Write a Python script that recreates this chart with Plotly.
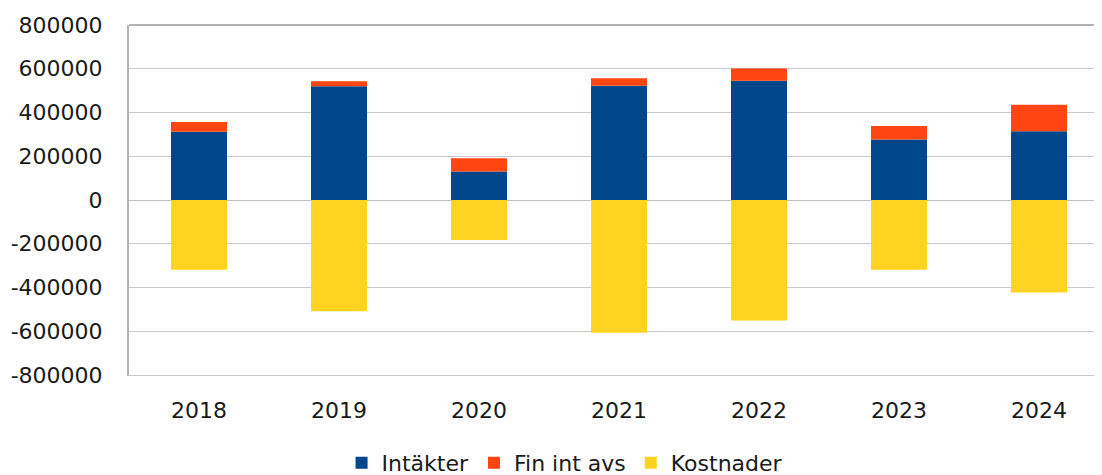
import plotly.graph_objects as go

years = ["2018", "2019", "2020", "2021", "2022", "2023", "2024"]
intakter = [312000, 520000, 130000, 522000, 545000, 277000, 314000]
fin_int_avs = [45000, 23000, 61000, 35000, 56000, 61000, 122000]
kostnader = [-319000, -508000, -183000, -607000, -551000, -319000, -423000]

y_tickvals = [800000, 600000, 400000, 200000, 0, -200000, -400000, -600000, -800000]
y_ticktext = ["800000", "600000", "400000", "200000", "0", "-200000", "-400000", "-600000", "-800000"]

font_family = "DejaVu Sans"

fig = go.Figure()
fig.add_trace(go.Bar(x=years, y=intakter, name="Intäkter", marker_color="#00468B",
                     marker_line_width=0))
fig.add_trace(go.Bar(x=years, y=fin_int_avs, name="Fin int avs", marker_color="#FF4511",
                     marker_line_width=0))
fig.add_trace(go.Bar(x=years, y=kostnader, name="Kostnader", marker_color="#FFD320",
                     marker_line_width=0))

fig.update_layout(
    width=1102, height=475,
    barmode="relative",
    bargap=0.6,
    paper_bgcolor="white",
    plot_bgcolor="white",
    margin=dict(l=121, r=0, t=17, b=108, autoexpand=False),
    font=dict(family=font_family, size=22, color="#1a1a1a"),
    legend=dict(orientation="h", x=0.444, xanchor="center", y=-0.251, yanchor="middle",
                font=dict(size=22), traceorder="normal", itemwidth=30),
    showlegend=True,
    shapes=[dict(type="line", xref="paper", yref="paper", x0=0, x1=1, y0=1, y1=1,
                 line=dict(color="#b3b3b3", width=2))],
)
fig.update_xaxes(
    range=[-0.5, 6.507],
    automargin=False,
    showgrid=False,
    showline=True,
    linecolor="#c8c8c8",
    linewidth=1,
    ticks="",
    ticklabelstandoff=16,
    tickfont=dict(size=22),
)
fig.update_yaxes(
    range=[-800000, 800000],
    automargin=False,
    tickvals=y_tickvals,
    ticktext=y_ticktext,
    showgrid=True,
    gridcolor="#c8c8c8",
    gridwidth=1,
    zeroline=True,
    zerolinecolor="#c0c0c0",
    zerolinewidth=1,
    showline=True,
    linecolor="#b3b3b3",
    linewidth=2,
    ticks="",
    ticklabelstandoff=20,
    tickfont=dict(size=22),
)

fig.write_html("out.html")
